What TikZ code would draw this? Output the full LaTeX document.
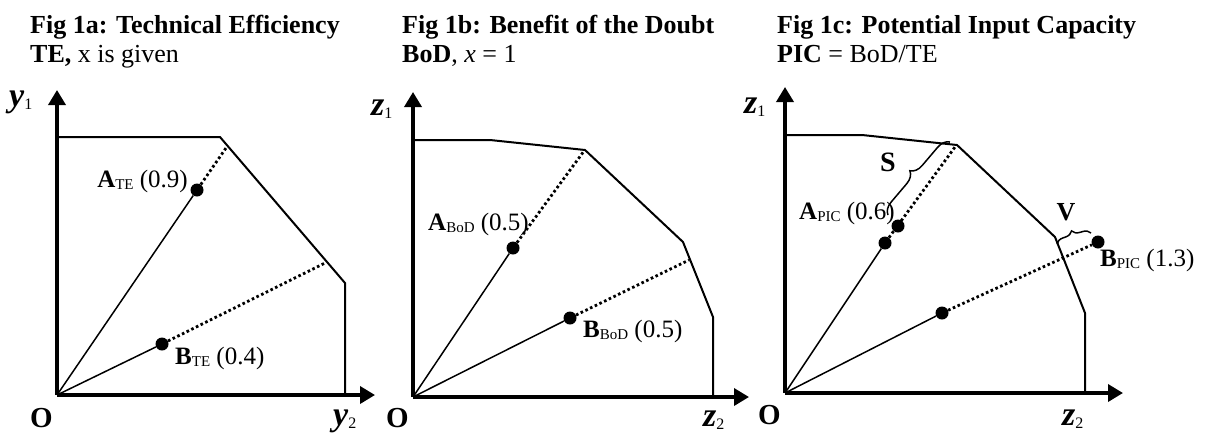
\documentclass[tikz,border=0pt]{standalone}
\usepackage{fontspec}
\setmainfont{Liberation Serif}
\usetikzlibrary{arrows.meta, positioning, calc, decorations.pathreplacing}
\definecolor{ink}{HTML}{000000}
\newcommand{\lsub}[1]{{\fontsize{15}{15}\selectfont\raisebox{-2pt}{#1}}}
\newcommand{\axsub}[1]{{\fontsize{16}{16}\selectfont\normalfont\raisebox{-3pt}{#1}}}
\tikzset{
  axis/.style={line width=3.5pt, draw=ink, -{Triangle[length=15pt, width=17pt]}},
  front/.style={line width=2pt, draw=ink, line join=miter},
  ray/.style={line width=1.5pt, draw=ink},
  proj/.style={line width=2.8pt, draw=ink, dash pattern=on 2.6pt off 2.6pt},
  dot/.style={circle, fill=ink, inner sep=0pt, minimum size=13pt},
  lbl/.style={font=\fontsize{25}{27}\selectfont, inner sep=0pt, text=ink},
  ttl/.style={font=\fontsize{26}{28}\selectfont\bfseries, anchor=base west, inner sep=0pt, text=ink},
  subttl/.style={font=\fontsize{26}{28}\selectfont, anchor=base west, inner sep=0pt, text=ink},
  axl/.style={font=\fontsize{34}{36}\selectfont\bfseries\itshape, anchor=base west, inner sep=0pt, text=ink},
  orig/.style={font=\fontsize{29}{30}\selectfont\bfseries, anchor=base west, inner sep=0pt, text=ink},
  brc/.style={decorate, decoration={brace, amplitude=#1}, line width=1.5pt, draw=ink},
}

\begin{document}
\begin{tikzpicture}[x=1pt, y=-1pt]
\useasboundingbox (0,0) rectangle (1206,432);

% Fig 1a
\node[ttl] (ta1) at (30,33) {Fig 1a: Technical Efficiency};
\node[subttl] (ta2) at (30,62) {\textbf{TE,} x is given};
\coordinate (oa) at (57,395);
\coordinate (ya) at (57,90);
\coordinate (xa) at (375,395);
\draw[front] (57,137) -- (220,137) -- (345,283) -- (345,395);
\draw[axis] (oa) -- (ya);
\draw[axis] (oa) -- (xa);
\node[axl] (lya1) at (9,106) {y\axsub{1}};
\node[axl] (lya2) at (333,425) {y\axsub{2}};
\node[orig] (loa) at (30,427) {O};
\node[dot] (ate) at (197,190) {};
\node[dot] (bte) at (162,344) {};
\coordinate (fate) at (226,148);
\coordinate (fbte) at (325,263);
\draw[ray] (oa) -- (ate);
\draw[ray] (oa) -- (bte);
\draw[proj] (ate) -- (fate);
\draw[proj] (bte) -- (fbte);
\node[lbl, anchor=east] (late) at (188,181) {\textbf{A}\lsub{TE} (0.9)};
\node[lbl, anchor=west] (lbte) at (175,358) {\textbf{B}\lsub{TE} (0.4)};

% Fig 1b
\node[ttl] (tb1) at (402,33) {Fig 1b: Benefit of the Doubt};
\node[subttl] (tb2) at (402,62) {\textbf{BoD}, \textit{x} = 1};
\coordinate (ob) at (413,397);
\coordinate (yb) at (413,92);
\coordinate (xb) at (749,397);
\draw[front] (413,140) -- (490,140) -- (585,150) -- (683,242) -- (713,317) -- (713,397);
\draw[axis] (ob) -- (yb);
\draw[axis] (ob) -- (xb);
\node[axl] (lzb1) at (371,115) {z\axsub{1}};
\node[axl] (lzb2) at (703,426) {z\axsub{2}};
\node[orig] (lob) at (386,427) {O};
\node[dot] (abod) at (513,248) {};
\node[dot] (bbod) at (570,318) {};
\coordinate (fabod) at (584,151);
\coordinate (fbbod) at (689,260);
\draw[ray] (ob) -- (abod);
\draw[ray] (ob) -- (bbod);
\draw[proj] (abod) -- (fabod);
\draw[proj] (bbod) -- (fbbod);
\node[lbl, anchor=west] (labod) at (428,224) {\textbf{A}\lsub{BoD} (0.5)};
\node[lbl, anchor=west] (lbbod) at (583,331) {\textbf{B}\lsub{BoD} (0.5)};

% Fig 1c
\node[ttl] (tc1) at (777,33) {Fig 1c: Potential Input Capacity};
\node[subttl] (tc2) at (777,62) {\textbf{PIC} = BoD/TE};
\coordinate (oc) at (785,393);
\coordinate (yc) at (785,87);
\coordinate (xc) at (1123,393);
\draw[front] (785,135) -- (862,135) -- (957,145) -- (1055,237) -- (1085,313) -- (1085,393);
\draw[axis] (oc) -- (yc);
\draw[axis] (oc) -- (xc);
\node[axl] (lzc1) at (744,113) {z\axsub{1}};
\node[axl] (lzc2) at (1062,425) {z\axsub{2}};
\node[orig] (loc) at (758,424) {O};
\node[dot] (a0) at (885,243) {};
\node[dot] (apic) at (898,226) {};
\node[dot] (b0) at (942,313) {};
\node[dot] (bpic) at (1098,242) {};
\coordinate (fapic) at (955,147);
\draw[ray] (oc) -- (a0);
\draw[ray] (oc) -- (b0);
\draw[proj] (a0) -- (fapic);
\draw[proj] (b0) -- (bpic);
\coordinate (s1) at (888,215);
\coordinate (s2) at (950,142);
\coordinate (v1) at (1057,244);
\coordinate (v2) at (1091,233);
\draw[brc=12pt] (s1) -- (s2);
\draw[brc=8pt] (v1) -- (v2);
\node[lbl, font=\fontsize{28}{30}\selectfont\bfseries] (ls) at (888,162) {S};
\node[lbl, font=\fontsize{26}{28}\selectfont\bfseries] (lv) at (1066,212) {V};
\node[lbl, anchor=west] (lapic) at (799,213) {\textbf{A}\lsub{PIC} (0.6)};
\node[lbl, anchor=west] (lbpic) at (1100,260) {\textbf{B}\lsub{PIC} (1.3)};
\end{tikzpicture}
\end{document}
